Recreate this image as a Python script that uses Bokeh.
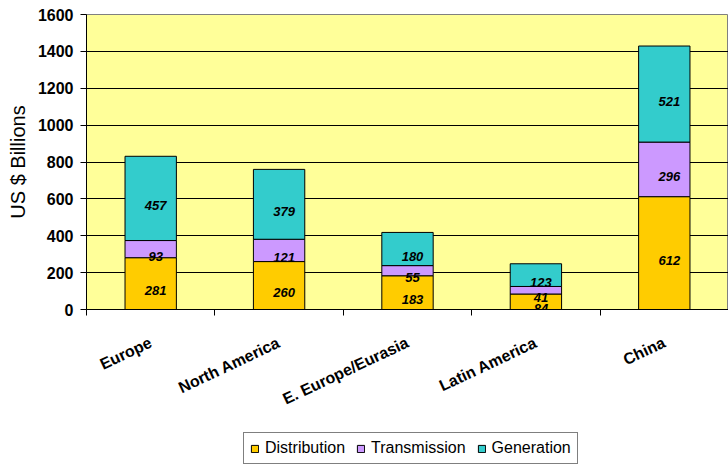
import math
from bokeh.plotting import figure
from bokeh.layouts import column
from bokeh.models import (ColumnDataSource, FixedTicker, Legend, LegendItem, Range1d)
from bokeh.core.properties import value
from bokeh.embed import file_html
from bokeh.resources import INLINE

# ---- data ----
regions = ["Europe", "North America", "E. Europe/Eurasia", "Latin America", "China"]
distribution = [281, 260, 183, 84, 612]
transmission = [93, 121, 55, 41, 296]
generation = [457, 379, 180, 123, 521]
series_names = ["Distribution", "Transmission", "Generation"]
colors = ["#FFCC00", "#CC99FF", "#33CCCC"]
y_ticks = [0, 200, 400, 600, 800, 1000, 1200, 1400, 1600]

n = len(regions)
xc = [i + 0.5 for i in range(n)]
b0 = [0] * n
t0 = distribution
b1 = distribution
t1 = [d + t for d, t in zip(distribution, transmission)]
b2 = t1
t2 = [a + g for a, g in zip(t1, generation)]

src = ColumnDataSource(dict(
    x=xc, b0=b0, t0=t0, b1=b1, t1=t1, b2=b2, t2=t2,
))

p = figure(width=728, height=420, output_backend="svg", toolbar_location=None,
           x_range=Range1d(0, n), y_range=Range1d(0, 1600),
           min_border_left=86, min_border_top=14, min_border_right=0, min_border_bottom=111)
p.background_fill_color = "#FFFF99"
p.border_fill_color = "white"
p.outline_line_color = "#808080"
p.outline_line_width = 1

bar_w = 0.4
bars = [("b0", "t0"), ("b1", "t1"), ("b2", "t2")]
for (lo, hi), c in zip(bars, colors):
    p.vbar(x="x", bottom=lo, top=hi, width=bar_w, source=src,
           fill_color=c, line_color="black", line_width=1)

# value labels at segment centres
lx, ly, lt = [], [], []
for i in range(n):
    segs = [(b0[i], t0[i], distribution[i]), (b1[i], t1[i], transmission[i]), (b2[i], t2[i], generation[i])]
    for lo, hi, v in segs:
        lx.append(xc[i])
        ly.append((lo + hi) / 2)
        lt.append(str(v))
lsrc = ColumnDataSource(dict(x=lx, y=ly, t=lt))
p.text(x="x", y="y", text="t", source=lsrc, text_align="center", text_baseline="middle",
       x_offset=5, y_offset=7,
       text_font=value("Liberation Sans"), text_font_style="bold italic",
       text_font_size="13px", text_color="black")

# axes
p.yaxis.ticker = FixedTicker(ticks=y_ticks)
p.yaxis.axis_label = "US $ Billions"
p.yaxis.axis_label_text_font = "Liberation Sans"
p.yaxis.axis_label_text_font_style = "normal"
p.yaxis.axis_label_text_font_size = "20px"
p.yaxis.axis_label_text_color = "black"
p.yaxis.axis_label_standoff = 6
p.yaxis.major_label_text_font = "Liberation Sans"
p.yaxis.major_label_text_font_style = "bold"
p.yaxis.major_label_text_font_size = "16px"
p.yaxis.major_label_text_color = "black"
p.yaxis.major_tick_out = 6
p.yaxis.major_tick_in = 0
p.yaxis.minor_tick_out = 0
p.yaxis.minor_tick_in = 0
p.yaxis.major_label_standoff = 7
p.yaxis.axis_line_color = "black"
p.yaxis.major_tick_line_color = "black"

p.xaxis.ticker = FixedTicker(ticks=xc, minor_ticks=list(range(n + 1)))
p.xaxis.major_label_overrides = {x: r for x, r in zip(xc, regions)}
p.xaxis.major_label_orientation = 0.44
p.xaxis.major_label_text_font = "Liberation Sans"
p.xaxis.major_label_text_font_style = "bold"
p.xaxis.major_label_text_font_size = "16px"
p.xaxis.major_label_text_color = "black"
p.xaxis.major_tick_out = 0
p.xaxis.major_tick_in = 0
p.xaxis.minor_tick_out = 6
p.xaxis.minor_tick_in = 0
p.xaxis.minor_tick_line_color = "black"
p.xaxis.major_label_standoff = 26
p.xaxis.axis_line_color = "black"

p.xgrid.grid_line_color = None
p.ygrid.grid_line_color = "black"
p.ygrid.grid_line_width = 1

# ---- legend strip ----
q = figure(width=728, height=46, output_backend="svg", toolbar_location=None,
           x_range=Range1d(0, 1), y_range=Range1d(-1e7, -1e7 + 1),
           x_axis_location=None, y_axis_location=None,
           min_border_left=0, min_border_right=0, min_border_top=0, min_border_bottom=0)
q.grid.visible = False
q.outline_line_color = None
q.background_fill_color = "white"
g = []
for (lo, hi), c in zip(bars, colors):
    r = q.vbar(x="x", bottom=lo, top=hi, width=bar_w, source=src,
               fill_color=c, line_color="black", line_width=1)
    r.visible = False
    g.append(r)

legend = Legend(items=[LegendItem(label=s, renderers=[r]) for s, r in zip(series_names, g)],
                orientation="horizontal", location=(157, 2))
legend.label_text_font = "Liberation Sans"
legend.label_text_font_size = "16px"
legend.label_text_color = "black"
legend.label_standoff = 6
legend.glyph_width = 9
legend.glyph_height = 9
legend.spacing = 11
legend.padding = 6
legend.margin = 0
legend.inactive_fill_alpha = 0
legend.border_line_color = "black"
legend.border_line_width = 1
legend.background_fill_color = "white"
q.add_layout(legend, "center")

layout = column(p, q, spacing=0)
open("out.html", "w").write(file_html(layout, INLINE))
